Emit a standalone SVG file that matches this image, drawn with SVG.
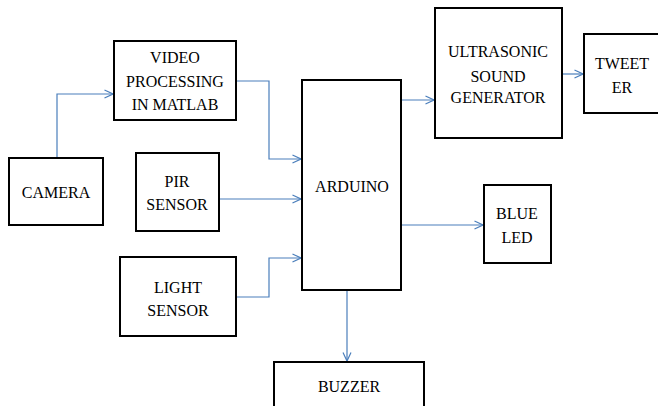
<svg xmlns="http://www.w3.org/2000/svg" width="658" height="406" viewBox="0 0 658 406">
<style>
.box{fill:#fff;stroke:#000;stroke-width:2}
.t{font-family:"Liberation Serif","Times New Roman",serif;font-size:16px;fill:#000;text-anchor:middle}
.c{fill:none;stroke:#4a7ebb;stroke-width:1.2}
</style>
<defs>
<marker id="a" viewBox="0 0 10 10" refX="9.5" refY="5" markerWidth="10" markerHeight="10" markerUnits="userSpaceOnUse" orient="auto">
<path d="M1,1 L9.5,5 L1,9" fill="none" stroke="#4a7ebb" stroke-width="1.2"/>
</marker>
</defs>
<rect width="658" height="406" fill="#fff"/>
<g id="connectors">
<path class="c" d="M57,158 V94 H113" marker-end="url(#a)"/>
<path class="c" d="M236,81 H269 V159 H301" marker-end="url(#a)"/>
<path class="c" d="M219,199 H301" marker-end="url(#a)"/>
<path class="c" d="M236,297 H269 V258 H301" marker-end="url(#a)"/>
<path class="c" d="M347,290 V361" marker-end="url(#a)"/>
<path class="c" d="M401,225 H483" marker-end="url(#a)"/>
<path class="c" d="M401,100 H434" marker-end="url(#a)"/>
<path class="c" d="M562,74 H583" marker-end="url(#a)"/>
</g>
<g id="camera"><rect class="box" x="9" y="158" width="94" height="67"/><text class="t" x="56" y="198">CAMERA</text></g>
<g id="video"><rect class="box" x="114" y="41" width="122" height="79"/><text class="t" x="175" y="63">VIDEO</text><text class="t" x="175" y="87">PROCESSING</text><text class="t" x="175" y="110">IN MATLAB</text></g>
<g id="pir"><rect class="box" x="136" y="153" width="83" height="78"/><text class="t" x="177" y="187">PIR</text><text class="t" x="177" y="210">SENSOR</text></g>
<g id="light"><rect class="box" x="120" y="257" width="116" height="79"/><text class="t" x="178" y="293">LIGHT</text><text class="t" x="178" y="316">SENSOR</text></g>
<g id="arduino"><rect class="box" x="302" y="80" width="99" height="210"/><text class="t" x="352" y="192">ARDUINO</text></g>
<g id="buzzer"><rect class="box" x="274" y="362" width="150" height="60"/><text class="t" x="349" y="392">BUZZER</text></g>
<g id="blueled"><rect class="box" x="484" y="185" width="67" height="78"/><text class="t" x="517" y="219">BLUE</text><text class="t" x="517" y="243">LED</text></g>
<g id="ultrasonic"><rect class="box" x="435" y="8" width="127" height="130"/><text class="t" x="498" y="57">ULTRASONIC</text><text class="t" x="498" y="82">SOUND</text><text class="t" x="498" y="103">GENERATOR</text></g>
<g id="tweeter"><rect class="box" x="584" y="34" width="80" height="79"/><text class="t" x="622" y="69">TWEET</text><text class="t" x="622" y="93">ER</text></g>
</svg>
